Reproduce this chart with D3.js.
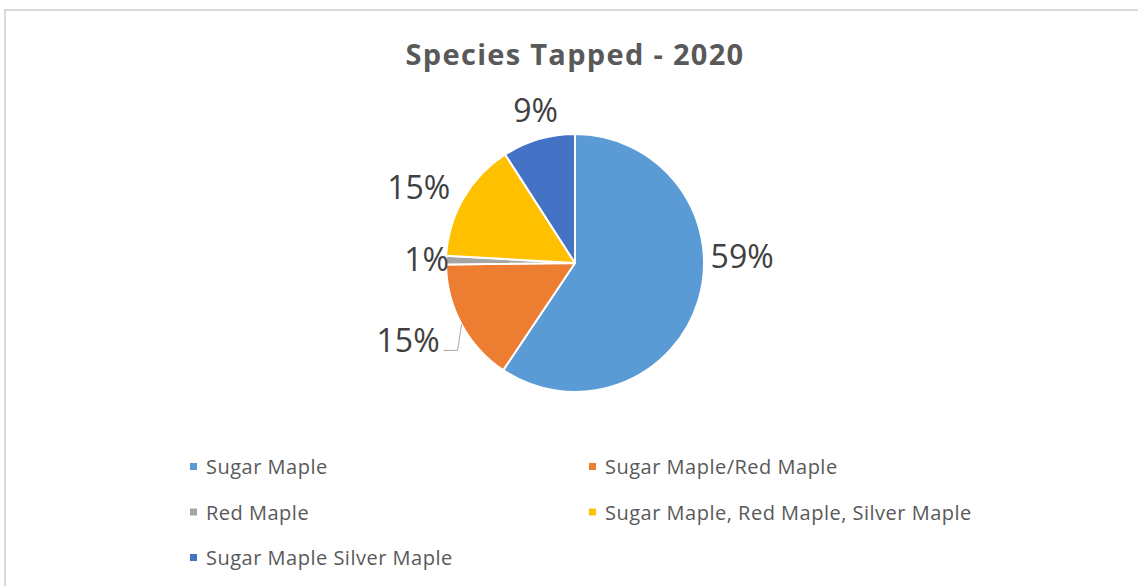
<!DOCTYPE html>
<html>
<head>
<meta charset="utf-8">
<script src="https://cdn.jsdelivr.net/npm/d3@7"></script>
<style>
  body { margin: 0; background: #fff; }
  text { font-family: "Open Sans", Lato, sans-serif; }
</style>
</head>
<body>
<div id="chart"></div>
<script>
// slices, clockwise from 12 o'clock
const categories = ["Sugar Maple", "Sugar Maple/Red Maple", "Red Maple",
  "Sugar Maple, Red Maple, Silver Maple", "Sugar Maple Silver Maple"];
const shares = [59.4, 15.4, 1.1, 15.0, 9.1];
const colors = ["#5b9bd5", "#ed7d31", "#a5a5a5", "#ffc000", "#4472c4"];
const title = "Species Tapped - 2020";

const width = 1138, height = 586;
const cx = 575, cy = 263, radius = 129;

// excel nudges its best-fit labels a little off the plain radial spot
const labelNudge = [[4, -50], [-17, 6], [13, 0], [-9, 0], [6, -9]];
const leaderFor = [false, true, false, false, false];

const svg = d3.select("#chart").append("svg")
    .attr("width", width)
    .attr("height", height);

svg.append("rect")
    .attr("x", 5).attr("y", 10)
    .attr("width", width + 20).attr("height", height + 20)
    .attr("fill", "#fff")
    .attr("stroke", "#d9d9d9")
    .attr("stroke-width", 2);

svg.append("text")
    .attr("x", cx).attr("y", 65)
    .attr("text-anchor", "middle")
    .attr("font-size", 29)
    .attr("font-weight", "bold")
    .attr("letter-spacing", 1.3)
    .attr("fill", "#595959")
    .text(title);

const data = categories.map((c, i) => ({name: c, value: shares[i], color: colors[i], i: i}));
const total = d3.sum(shares);

const pie = d3.pie().sort(null).value(d => d.value);
const arc = d3.arc().innerRadius(0).outerRadius(radius);
const arcs = pie(data);

const g = svg.append("g").attr("transform", `translate(${cx},${cy})`);

g.selectAll(".slice")
  .data(arcs)
  .enter().append("path")
    .attr("class", "slice")
    .attr("d", arc)
    .attr("fill", d => d.data.color)
    .attr("stroke", "#fff")
    .attr("stroke-width", 2)
    .attr("stroke-linejoin", "round");

const labels = g.selectAll(".lbl")
  .data(arcs)
  .enter().append("text")
    .attr("class", "lbl")
    .attr("font-size", 32)
    .attr("fill", "#404040")
    .attr("text-anchor", "middle")
    .attr("dy", "0.36em")
    .text(d => Math.round(d.data.value / total * 100) + "%");

labels.each(function(d) {
  const bb = this.getBBox();
  const a = (d.startAngle + d.endAngle) / 2;
  const dx = Math.sin(a), dy = -Math.cos(a);
  const r = radius + 10;
  const nx = labelNudge[d.data.i];
  d.lx = dx * r + dx * bb.width / 2 + nx[0];
  d.ly = dy * r + dy * 11 + nx[1];
  d.w = bb.width;
  d3.select(this).attr("x", d.lx).attr("y", d.ly);
});

g.selectAll(".leader")
  .data(arcs.filter(d => leaderFor[d.data.i]))
  .enter().append("polyline")
    .attr("class", "leader")
    .attr("fill", "none")
    .attr("stroke", "#a6a6a6")
    .attr("stroke-width", 1)
    .attr("points", d => {
      const a = (d.startAngle + d.endAngle) / 2;
      const ex = Math.sin(a) * radius, ey = -Math.cos(a) * radius;
      const tx = d.lx + d.w / 2 + 4, ty = d.ly + 10;
      return [[ex, ey], [ex - 4, ty], [tx, ty]].map(p => p.join(",")).join(" ");
    });

// legend, two columns
const colX = d3.scalePoint().domain([0, 1]).range([190, 589]);
const rowY = d3.scalePoint().domain([0, 1, 2]).range([467, 558]);

const leg = svg.selectAll(".leg")
  .data(data)
  .enter().append("g")
    .attr("class", "leg")
    .attr("transform", d => `translate(${colX(d.i % 2)},${rowY(Math.floor(d.i / 2))})`);

leg.append("rect")
    .attr("x", 0).attr("y", -4)
    .attr("width", 7).attr("height", 7)
    .attr("fill", d => d.color);

leg.append("text")
    .attr("x", 16)
    .attr("dy", "0.35em")
    .attr("font-size", 20)
    .attr("letter-spacing", 0.5)
    .attr("fill", "#595959")
    .text(d => d.name);
</script>
</body>
</html>
